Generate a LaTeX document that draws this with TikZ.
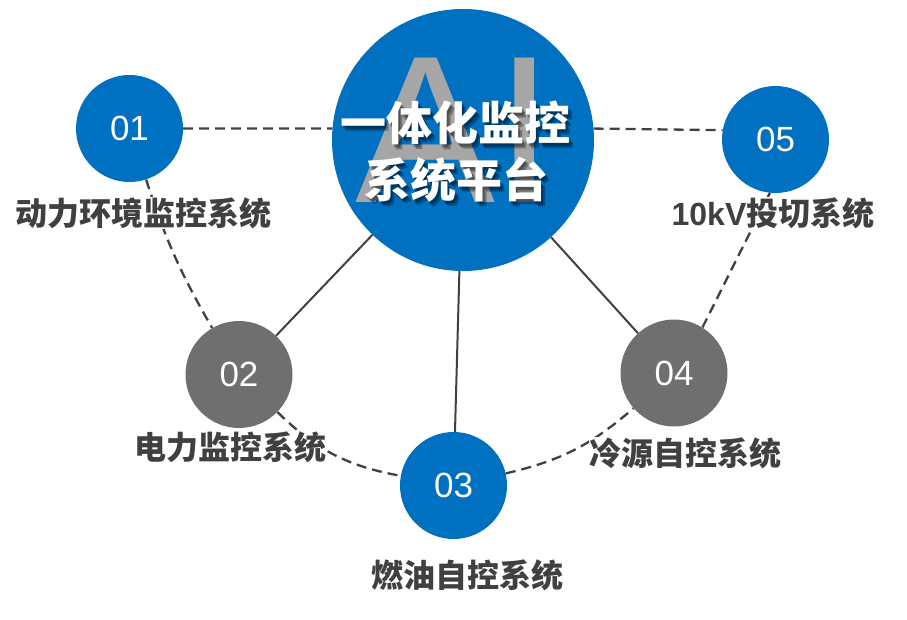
\documentclass[tikz,border=0pt]{standalone}
\usepackage{fontspec}
\setmainfont{Liberation Sans}
\newfontfamily\cjk{Noto Sans CJK SC}
\usetikzlibrary{backgrounds}
\definecolor{aiblue}{HTML}{0070C0}
\definecolor{aigray}{HTML}{6F6F6F}
\definecolor{txtgray}{HTML}{404040}
\definecolor{letgray}{HTML}{A6A6A6}
\definecolor{lncol}{HTML}{404040}
\tikzset{
  bub/.style={circle, minimum size=107pt, inner sep=0pt, text=white,
    font=\fontsize{35}{35}\selectfont},
  bluebub/.style={bub, fill=aiblue},
  graybub/.style={bub, fill=aigray},
  lab/.style={font=\cjk\bfseries\fontsize{32}{32}\selectfont, text=txtgray, fill=white, inner sep=0pt},
  title/.style={font=\cjk\bfseries\fontsize{46}{46}\selectfont, text=white, inner sep=0pt},
  tshadow/.style={title, text=black, opacity=0.3},
  dashline/.style={draw=lncol, line width=2.3pt, dash pattern=on 10pt off 6pt},
  solidline/.style={draw=lncol, line width=2pt}
}
\begin{document}
\begin{tikzpicture}[x=1pt,y=1pt]
\useasboundingbox (0,0) rectangle (907,-620);
% main circle
\node[circle, fill=aiblue, minimum size=262pt, inner sep=0pt] (c) at (463,-140) {};
\node[anchor=base west, inner sep=0pt, text=letgray, font=\fontsize{210}{210}\selectfont] (ai) at (355,-203) {AI};
% title with shadow
\node[tshadow] (t1s) at (459,-128) {一体化监控};
\node[tshadow] (t2s) at (460,-185) {系统平台};
\node[tshadow] (t1s2) at (457.5,-126) {一体化监控};
\node[tshadow] (t2s2) at (458.5,-183) {系统平台};
\node[title] (t1) at (455,-123) {一体化监控};
\node[title] (t2) at (456,-180) {系统平台};
% satellites
\node[bluebub] (n1) at (129.5,-128.5) {01};
\node[graybub] (n2) at (239,-374.5) {02};
\node[bluebub] (n3) at (453.5,-485.5) {03};
\node[graybub] (n4) at (674,-373) {04};
\node[bluebub] (n5) at (775.5,-139.5) {05};
% labels
\node[lab] (l1) at (144,-213) {动力环境监控系统};
\node[lab] (l2) at (230,-447) {电力监控系统};
\node[lab] (l3) at (467,-575) {燃油自控系统};
\node[lab] (l4) at (685,-453) {冷源自控系统};
\node[lab] (l5) at (773,-213) {{\fontspec{Liberation Sans}\bfseries 10kV}投切系统};
% connectors
\begin{scope}[on background layer]
\draw[dashline] (n1.east) -- (c.175);
\draw[dashline] (c.5) -- (n5.170);
\draw[dashline] (n1) to[bend right=6] (n2);
\draw[dashline] (n2) to[bend right=17] (n3);
\draw[dashline] (n3) to[bend right=14] (n4);
\draw[dashline] (n4.58) -- (n5.264);
\draw[solidline] (c) -- (n2);
\draw[solidline] (c) -- (n3);
\draw[solidline] (c) -- (n4);
\end{scope}
\end{tikzpicture}
\end{document}
